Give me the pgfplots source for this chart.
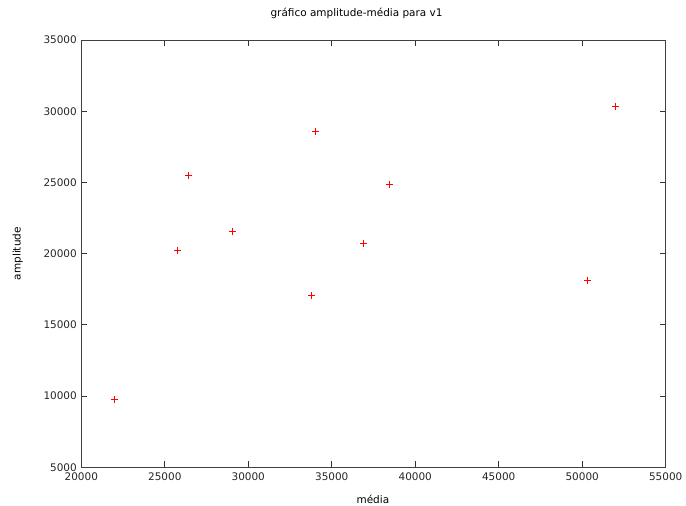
\documentclass[border=0pt]{standalone}
\usepackage{fontspec}
\setmainfont{DejaVu Sans}
\usepackage{pgfplots}
\pgfplotsset{compat=1.18}
\definecolor{mkred}{RGB}{255,0,0}
\begin{document}
\begin{tikzpicture}
\begin{axis}[
  at={(0,0)}, anchor=south west,
  scale only axis,
  width=584.4bp, height=427.3bp,
  xmin=20000, xmax=55000, ymin=5000, ymax=35000,
  xtick={20000,25000,...,55000},
  ytick={5000,10000,...,35000},
  scaled ticks=false,
  /pgf/number format/assume math mode=true,
  xticklabel style={/pgf/number format/.cd,fixed,1000 sep={}},
  yticklabel style={/pgf/number format/.cd,fixed,1000 sep={}},
  tick label style={font=\fontsize{10.5}{12}\selectfont, text=black!85},
  tick align=inside,
  major tick length=6bp,
  axis line style={black!75, line width=0.8bp},
  every tick/.style={black!80, line width=0.8bp},
  xticklabel shift=2bp,
  yticklabel shift=1bp,
  title={gráfico amplitude-média para v1},
  title style={font=\fontsize{10.5}{12}\selectfont, at={(0.471,1)}, anchor=base, yshift=18bp},
  xlabel={média},
  ylabel={amplitude},
  label style={font=\fontsize{10.5}{12}\selectfont},
  xlabel style={at={(0.499,0)}, anchor=base, yshift=-36.5bp},
  ylabel style={at={(axis description cs:0,0.5)}, anchor=base, yshift=60.6bp},
]
\addplot[only marks, mark=+, mark size=3.5bp, mkred,
  mark options={mkred, line width=1bp}] table {
x y
21980 9775
25770 20235
26410 25470
29085 21590
34015 28610
33815 17075
36890 20680
38430 24870
50345 18130
52005 30365
};
\end{axis}
\pgfresetboundingbox
\path[use as bounding box] (-81.3bp,-38.7bp) rectangle (604.7bp,467.3bp);
\end{tikzpicture}
\end{document}
